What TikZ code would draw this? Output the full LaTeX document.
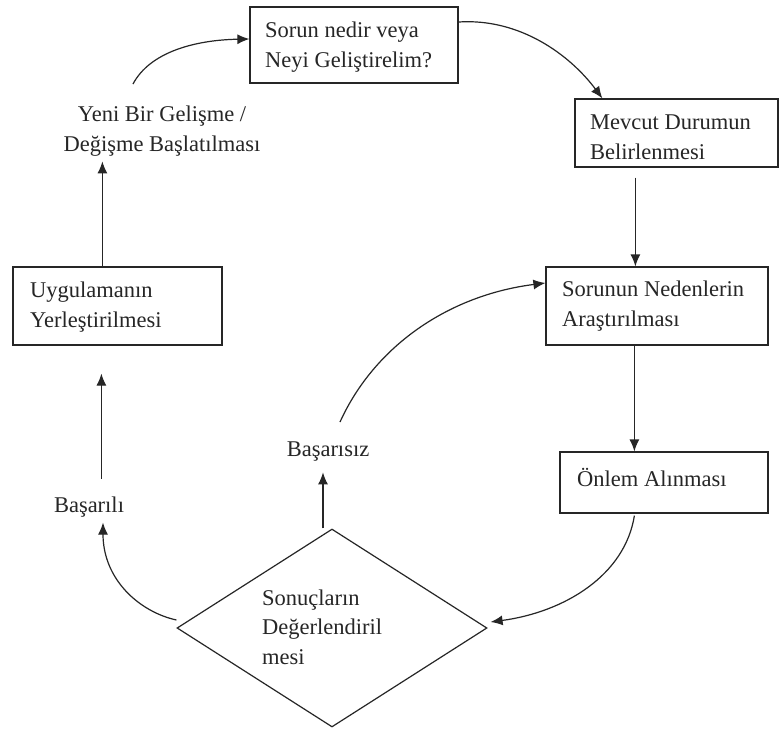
\documentclass[tikz,border=0pt]{standalone}
\usepackage{fontspec}
\setmainfont{Liberation Serif}
\usetikzlibrary{shapes.geometric,arrows.meta,calc}
\begin{document}
\begin{tikzpicture}[x=1pt,y=-1pt,
  box/.style={draw=black!85, line width=1.2pt, inner sep=0pt},
  txt/.style={inner sep=0pt, align=left, font=\fontsize{22.5}{29.5}\selectfont, text=black!85},
  arr/.style={draw=black!85, line width=1.2pt, -{Latex[length=12pt,width=10pt]}},
]
\useasboundingbox[fill=white] (0,0) rectangle (780,731);
% boxes
\node[box, minimum width=208pt, minimum height=76pt] (b1) at (354,45) {};
\node[txt, anchor=west] (b1t) at (265,47) {Sorun nedir veya\\Neyi Geliştirelim?};
\node[box, minimum width=203pt, minimum height=68pt] (b2) at (676.5,133) {};
\node[txt, anchor=west] (b2t) at (590,137) {Mevcut Durumun\\Belirlenmesi};
\node[box, minimum width=222pt, minimum height=78pt] (b3) at (657,306) {};
\node[txt, anchor=west] (b3t) at (562,306) {Sorunun Nedenlerin\\Araştırılması};
\node[box, minimum width=208pt, minimum height=61pt] (b4) at (664,482.5) {};
\node[txt, anchor=west] (b4t) at (577,477) {Önlem Alınması};
\node[box, diamond, minimum width=310pt, minimum height=198pt] (d) at (332,628) {};
\node[txt, anchor=west] (dt) at (262,627) {Sonuçların\\Değerlendiril\\mesi};
\node[box, minimum width=209pt, minimum height=78pt] (b5) at (117.5,306) {};
\node[txt, anchor=west] (b5t) at (30,307) {Uygulamanın\\Yerleştirilmesi};
% labels
\node[txt, align=center] (yeni) at (162,131) {Yeni Bir Gelişme /\\Değişme Başlatılması};
\node[txt] (bsz) at (328,452) {Başarısız};
\node[txt] (bsl) at (89,507) {Başarılı};
% free ends
\coordinate (c1) at (133,84);
\coordinate (c2) at (340,422);
% connectors
\draw[arr] (c1) .. controls (150,52) and (195,40) .. ($(b1.west)+(0,-6)$);
\draw[arr] ($(b1.east)+(0,-23)$) .. controls (520,18) and (570,55) .. ($(b2.north west)+(28,0)$);
\draw[arr] ($(b2.south west)+(61,10)$) -- ($(b3.north west)+(90,0)$);
\draw[arr] ($(b3.south west)+(89,0)$) -- ($(b4.north west)+(75,0)$);
\draw[arr] ($(b4.south west)+(75,2)$) .. controls (625,575) and (565,612) .. ($(d.east)+(3,-6)$);
\draw[arr] ($(d.north)+(-9,0)$) -- ($(d.north)+(-9,-56)$);
\draw[arr] (c2) .. controls (375,345) and (450,295) .. ($(b3.west)+(0,-23)$);
\draw[arr] ($(d.west)+(0,-8)$) .. controls (140,612) and (103,580) .. ($(bsl.north)+(14,26)$);
\draw[arr] ($(b5.south west)+(89,133)$) -- ($(b5.south west)+(89,28)$);
\draw[arr] ($(b5.north west)+(90,0)$) -- ($(b5.north west)+(90,-105)$);
\end{tikzpicture}
\end{document}
